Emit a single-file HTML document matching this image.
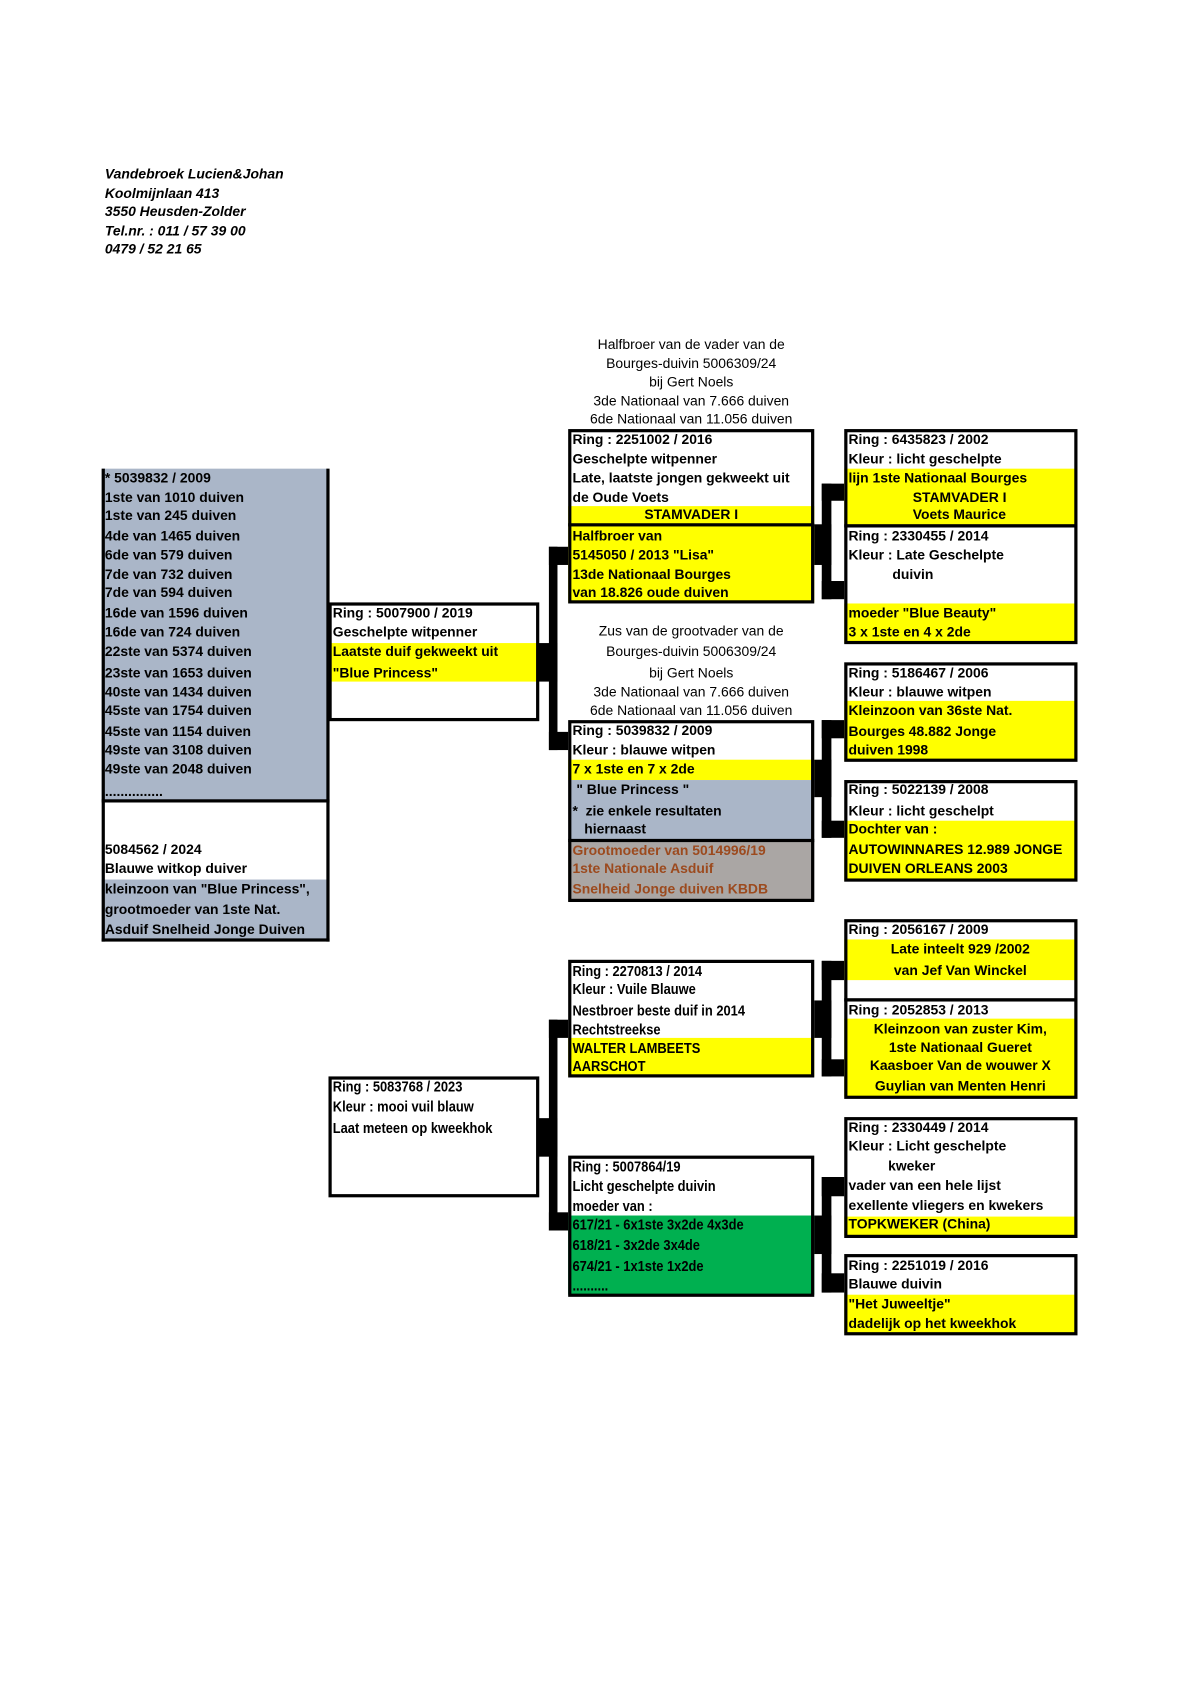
<!DOCTYPE html>
<html><head><meta charset="utf-8"><style>
html,body{margin:0;padding:0;background:#fff}
#w{position:relative;width:1112px;height:1573px;transform:scale(1.07);transform-origin:0 0;font-family:"Liberation Sans",Arial,sans-serif}
.f{position:absolute}
.b{position:absolute;border:3px solid #000;box-sizing:border-box}
.k{position:absolute;background:#000}
.t{position:absolute;font-size:13px;font-weight:bold;line-height:16px;white-space:nowrap;color:#000}
.n{font-size:14px;transform:scaleX(0.86);transform-origin:0 0}
.c{position:absolute;font-size:13px;line-height:16px;white-space:nowrap;text-align:center;width:240px}
.h{position:absolute;font-size:13px;font-weight:bold;font-style:italic;line-height:16px;left:98px}
.y{background:#ffff00}.g{background:#aab6c8}.gr{background:#00b050}.br{background:#aaa6a4}
.o{color:#9c4a1e}
</style></head><body><div id="w">
<div class="h" style="top:155px">Vandebroek Lucien&amp;Johan</div>
<div class="h" style="top:173px">Koolmijnlaan 413</div>
<div class="h" style="top:190px">3550 Heusden-Zolder</div>
<div class="h" style="top:208px">Tel.nr. : 011 / 57 39 00</div>
<div class="h" style="top:225px">0479 / 52 21 65</div>

<div class="f g" style="left:95px;top:438px;width:212px;height:310px"></div>
<div class="f g" style="left:95px;top:822px;width:212px;height:57px"></div>
<div class="k" style="left:95px;top:438px;width:3px;height:442px"></div>
<div class="k" style="left:305px;top:438px;width:3px;height:442px"></div>
<div class="k" style="left:95px;top:747px;width:213px;height:3px"></div>
<div class="k" style="left:95px;top:877px;width:213px;height:3px"></div>
<div class="t" style="left:98px;top:439px">* 5039832 / 2009</div>
<div class="t" style="left:98px;top:457px">1ste van 1010 duiven</div>
<div class="t" style="left:98px;top:474px">1ste van 245 duiven</div>
<div class="t" style="left:98px;top:493px">4de van 1465 duiven</div>
<div class="t" style="left:98px;top:511px">6de van 579 duiven</div>
<div class="t" style="left:98px;top:529px">7de van 732 duiven</div>
<div class="t" style="left:98px;top:546px">7de van 594 duiven</div>
<div class="t" style="left:98px;top:565px">16de van 1596 duiven</div>
<div class="t" style="left:98px;top:583px">16de van 724 duiven</div>
<div class="t" style="left:98px;top:601px">22ste van 5374 duiven</div>
<div class="t" style="left:98px;top:621px">23ste van 1653 duiven</div>
<div class="t" style="left:98px;top:639px">40ste van 1434 duiven</div>
<div class="t" style="left:98px;top:656px">45ste van 1754 duiven</div>
<div class="t" style="left:98px;top:676px">45ste van 1154 duiven</div>
<div class="t" style="left:98px;top:693px">49ste van 3108 duiven</div>
<div class="t" style="left:98px;top:711px">49ste van 2048 duiven</div>
<div class="t" style="left:98px;top:732px">...............</div>
<div class="t" style="left:98px;top:786px">5084562 / 2024</div>
<div class="t" style="left:98px;top:804px">Blauwe witkop duiver</div>
<div class="t" style="left:98px;top:823px">kleinzoon van "Blue Princess",</div>
<div class="t" style="left:98px;top:842px">grootmoeder van 1ste Nat.</div>
<div class="t" style="left:98px;top:861px">Asduif Snelheid Jonge Duiven</div>

<div class="f y" style="left:307px;top:601px;width:196px;height:36px"></div>
<div class="t" style="left:311px;top:565px">Ring : 5007900 / 2019</div>
<div class="t" style="left:311px;top:583px">Geschelpte witpenner</div>
<div class="t" style="left:311px;top:601px">Laatste duif gekweekt uit</div>
<div class="t" style="left:311px;top:621px">"Blue Princess"</div>
<div class="b" style="left:307px;top:563px;width:197px;height:111px"></div>

<div class="k" style="left:513px;top:511px;width:8px;height:190px"></div>
<div class="k" style="left:513px;top:511px;width:18px;height:17px"></div>
<div class="k" style="left:513px;top:684px;width:18px;height:17px"></div>
<div class="k" style="left:503px;top:601px;width:18px;height:36px"></div>

<div class="c" style="left:526px;top:314px">Halfbroer van de vader van de</div>
<div class="c" style="left:526px;top:332px">Bourges-duivin 5006309/24</div>
<div class="c" style="left:526px;top:349px">bij Gert Noels</div>
<div class="c" style="left:526px;top:367px">3de Nationaal van 7.666 duiven</div>
<div class="c" style="left:526px;top:384px">6de Nationaal van 11.056 duiven</div>
<div class="c" style="left:526px;top:582px">Zus van de grootvader van de</div>
<div class="c" style="left:526px;top:601px">Bourges-duivin 5006309/24</div>
<div class="c" style="left:526px;top:621px">bij Gert Noels</div>
<div class="c" style="left:526px;top:639px">3de Nationaal van 7.666 duiven</div>
<div class="c" style="left:526px;top:656px">6de Nationaal van 11.056 duiven</div>

<div class="f y" style="left:531px;top:473px;width:230px;height:90px"></div>
<div class="k" style="left:531px;top:489px;width:230px;height:3px"></div>
<div class="t" style="left:535px;top:403px">Ring : 2251002 / 2016</div>
<div class="t" style="left:535px;top:421px">Geschelpte witpenner</div>
<div class="t" style="left:535px;top:439px">Late, laatste jongen gekweekt uit</div>
<div class="t" style="left:535px;top:457px">de Oude Voets</div>
<div class="t" style="left:531px;top:473px;width:230px;text-align:center">STAMVADER I</div>
<div class="t" style="left:535px;top:493px">Halfbroer van</div>
<div class="t" style="left:535px;top:511px">5145050 / 2013 "Lisa"</div>
<div class="t" style="left:535px;top:529px">13de Nationaal Bourges</div>
<div class="t" style="left:535px;top:546px">van 18.826 oude duiven</div>
<div class="b" style="left:531px;top:401px;width:230px;height:163px"></div>

<div class="f y" style="left:531px;top:710px;width:230px;height:19px"></div>
<div class="f g" style="left:531px;top:729px;width:230px;height:56px"></div>
<div class="f br" style="left:531px;top:786px;width:230px;height:56px"></div>
<div class="k" style="left:531px;top:784px;width:230px;height:3px"></div>
<div class="t" style="left:535px;top:675px">Ring : 5039832 / 2009</div>
<div class="t" style="left:535px;top:693px">Kleur : blauwe witpen</div>
<div class="t" style="left:535px;top:711px">7 x 1ste en 7 x 2de</div>
<div class="t" style="left:535px;top:730px">&nbsp;" Blue Princess "</div>
<div class="t" style="left:535px;top:750px">*&nbsp; zie enkele resultaten</div>
<div class="t" style="left:546px;top:767px">hiernaast</div>
<div class="t o" style="left:535px;top:787px">Grootmoeder van 5014996/19</div>
<div class="t o" style="left:535px;top:804px">1ste Nationale Asduif</div>
<div class="t o" style="left:535px;top:823px">Snelheid Jonge duiven KBDB</div>
<div class="b" style="left:531px;top:673px;width:230px;height:170px"></div>

<div class="k" style="left:768px;top:452px;width:9px;height:108px"></div>
<div class="k" style="left:768px;top:452px;width:21px;height:16px"></div>
<div class="k" style="left:768px;top:543px;width:21px;height:17px"></div>
<div class="k" style="left:761px;top:490px;width:16px;height:38px"></div>
<div class="k" style="left:768px;top:673px;width:9px;height:110px"></div>
<div class="k" style="left:768px;top:673px;width:21px;height:17px"></div>
<div class="k" style="left:768px;top:767px;width:21px;height:16px"></div>
<div class="k" style="left:761px;top:710px;width:16px;height:35px"></div>

<div class="f y" style="left:789px;top:438px;width:217px;height:53px"></div>
<div class="t" style="left:793px;top:403px">Ring : 6435823 / 2002</div>
<div class="t" style="left:793px;top:421px">Kleur : licht geschelpte</div>
<div class="t" style="left:793px;top:439px">lijn 1ste Nationaal Bourges</div>
<div class="t" style="left:853px;top:457px">STAMVADER I</div>
<div class="t" style="left:853px;top:473px">Voets Maurice</div>
<div class="b" style="left:789px;top:401px;width:218px;height:92px"></div>
<div class="f y" style="left:789px;top:564px;width:217px;height:37px"></div>
<div class="t" style="left:793px;top:493px">Ring : 2330455 / 2014</div>
<div class="t" style="left:793px;top:511px">Kleur : Late Geschelpte</div>
<div class="t" style="left:834px;top:529px">duivin</div>
<div class="t" style="left:793px;top:565px">moeder "Blue Beauty"</div>
<div class="t" style="left:793px;top:583px">3 x 1ste en 4 x 2de</div>
<div class="b" style="left:789px;top:490px;width:218px;height:112px"></div>
<div class="f y" style="left:789px;top:655px;width:217px;height:56px"></div>
<div class="t" style="left:793px;top:621px">Ring : 5186467 / 2006</div>
<div class="t" style="left:793px;top:639px">Kleur : blauwe witpen</div>
<div class="t" style="left:793px;top:656px">Kleinzoon van 36ste Nat.</div>
<div class="t" style="left:793px;top:676px">Bourges 48.882 Jonge</div>
<div class="t" style="left:793px;top:693px">duiven 1998</div>
<div class="b" style="left:789px;top:619px;width:218px;height:93px"></div>
<div class="f y" style="left:789px;top:767px;width:217px;height:56px"></div>
<div class="t" style="left:793px;top:730px">Ring : 5022139 / 2008</div>
<div class="t" style="left:793px;top:750px">Kleur : licht geschelpt</div>
<div class="t" style="left:793px;top:767px">Dochter van :</div>
<div class="t" style="left:793px;top:786px">AUTOWINNARES 12.989 JONGE</div>
<div class="t" style="left:793px;top:804px">DUIVEN ORLEANS 2003</div>
<div class="b" style="left:789px;top:729px;width:218px;height:95px"></div>

<div class="t n" style="left:311px;top:1007px">Ring : 5083768 / 2023</div>
<div class="t n" style="left:311px;top:1026px">Kleur : mooi vuil blauw</div>
<div class="t n" style="left:311px;top:1046px">Laat meteen op kweekhok</div>
<div class="b" style="left:307px;top:1006px;width:197px;height:113px"></div>

<div class="k" style="left:513px;top:953px;width:8px;height:197px"></div>
<div class="k" style="left:513px;top:953px;width:18px;height:17px"></div>
<div class="k" style="left:513px;top:1133px;width:18px;height:17px"></div>
<div class="k" style="left:503px;top:1045px;width:18px;height:36px"></div>

<div class="f y" style="left:531px;top:970px;width:230px;height:36px"></div>
<div class="t n" style="left:535px;top:899px">Ring : 2270813 / 2014</div>
<div class="t n" style="left:535px;top:916px">Kleur : Vuile Blauwe</div>
<div class="t n" style="left:535px;top:936px">Nestbroer beste duif in 2014</div>
<div class="t n" style="left:535px;top:954px">Rechtstreekse</div>
<div class="t n" style="left:535px;top:971px">WALTER LAMBEETS</div>
<div class="t n" style="left:535px;top:988px">AARSCHOT</div>
<div class="b" style="left:531px;top:897px;width:230px;height:110px"></div>

<div class="f gr" style="left:531px;top:1136px;width:230px;height:74px"></div>
<div class="t n" style="left:535px;top:1082px">Ring : 5007864/19</div>
<div class="t n" style="left:535px;top:1100px">Licht geschelpte duivin</div>
<div class="t n" style="left:535px;top:1119px">moeder van :</div>
<div class="t n" style="left:535px;top:1136px">617/21 - 6x1ste 3x2de 4x3de</div>
<div class="t n" style="left:535px;top:1155px">618/21 - 3x2de 3x4de</div>
<div class="t n" style="left:535px;top:1175px">674/21 - 1x1ste 1x2de</div>
<div class="t n" style="left:535px;top:1193px">..........</div>
<div class="b" style="left:531px;top:1080px;width:230px;height:132px"></div>

<div class="k" style="left:768px;top:898px;width:9px;height:108px"></div>
<div class="k" style="left:768px;top:898px;width:21px;height:18px"></div>
<div class="k" style="left:768px;top:990px;width:21px;height:16px"></div>
<div class="k" style="left:761px;top:935px;width:16px;height:35px"></div>
<div class="k" style="left:768px;top:1100px;width:9px;height:108px"></div>
<div class="k" style="left:768px;top:1100px;width:21px;height:18px"></div>
<div class="k" style="left:768px;top:1190px;width:21px;height:18px"></div>
<div class="k" style="left:761px;top:1136px;width:16px;height:36px"></div>

<div class="f y" style="left:789px;top:878px;width:217px;height:38px"></div>
<div class="t" style="left:793px;top:861px">Ring : 2056167 / 2009</div>
<div class="t" style="left:789px;top:879px;width:217px;text-align:center">Late inteelt 929 /2002</div>
<div class="t" style="left:789px;top:899px;width:217px;text-align:center">van Jef Van Winckel</div>
<div class="b" style="left:789px;top:859px;width:218px;height:77px"></div>
<div class="f y" style="left:789px;top:952px;width:217px;height:73px"></div>
<div class="t" style="left:793px;top:936px">Ring : 2052853 / 2013</div>
<div class="t" style="left:789px;top:954px;width:217px;text-align:center">Kleinzoon van zuster Kim,</div>
<div class="t" style="left:789px;top:971px;width:217px;text-align:center">1ste Nationaal Gueret</div>
<div class="t" style="left:789px;top:988px;width:217px;text-align:center">Kaasboer Van de wouwer X</div>
<div class="t" style="left:789px;top:1007px;width:217px;text-align:center">Guylian van Menten Henri</div>
<div class="b" style="left:789px;top:933px;width:218px;height:94px"></div>
<div class="f y" style="left:789px;top:1137px;width:217px;height:18px"></div>
<div class="t" style="left:793px;top:1046px">Ring : 2330449 / 2014</div>
<div class="t" style="left:793px;top:1063px">Kleur : Licht geschelpte</div>
<div class="t" style="left:830px;top:1082px">kweker</div>
<div class="t" style="left:793px;top:1100px">vader van een hele lijst</div>
<div class="t" style="left:793px;top:1119px">exellente vliegers en kwekers</div>
<div class="t" style="left:793px;top:1136px">TOPKWEKER (China)</div>
<div class="b" style="left:789px;top:1044px;width:218px;height:113px"></div>
<div class="f y" style="left:789px;top:1210px;width:217px;height:36px"></div>
<div class="t" style="left:793px;top:1175px">Ring : 2251019 / 2016</div>
<div class="t" style="left:793px;top:1192px">Blauwe duivin</div>
<div class="t" style="left:793px;top:1211px">"Het Juweeltje"</div>
<div class="t" style="left:793px;top:1229px">dadelijk op het kweekhok</div>
<div class="b" style="left:789px;top:1172px;width:218px;height:76px"></div>
</div></body></html>
